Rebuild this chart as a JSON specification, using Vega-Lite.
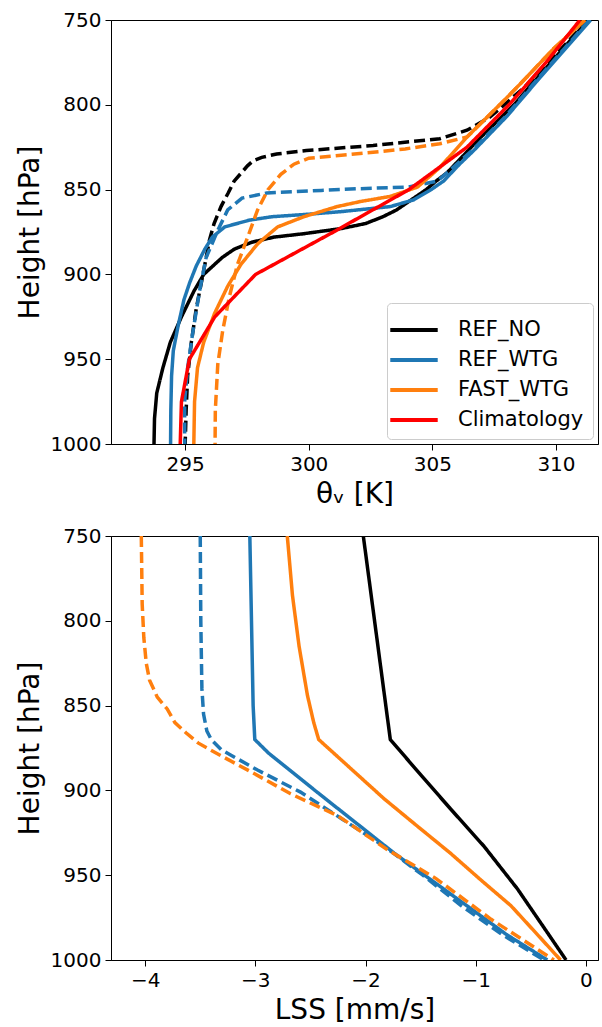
{
  "$schema": "https://vega.github.io/schema/vega-lite/v6.json",
  "padding": {"left": 15, "top": 9, "right": 0, "bottom": 0},
  "spacing": 16,
  "config": {
    "font": "DejaVu Sans",
    "view": {"stroke": "black", "strokeWidth": 1},
    "axis": {
      "grid": false,
      "labelFont": "DejaVu Sans",
      "titleFont": "DejaVu Sans",
      "labelFontSize": 20,
      "titleFontSize": 28,
      "titleFontWeight": "normal",
      "labelColor": "black",
      "titleColor": "black",
      "tickColor": "black",
      "domainColor": "black",
      "tickSize": 6,
      "labelPadding": 4,
      "titlePadding": 6
    }
  },
  "datasets": {
    "theta": [
      {"s": "REF_NO", "d": "solid", "p": 1000, "v": 293.74},
      {"s": "REF_NO", "d": "solid", "p": 985, "v": 293.76},
      {"s": "REF_NO", "d": "solid", "p": 970, "v": 293.85},
      {"s": "REF_NO", "d": "solid", "p": 955, "v": 294.1},
      {"s": "REF_NO", "d": "solid", "p": 940, "v": 294.4},
      {"s": "REF_NO", "d": "solid", "p": 925, "v": 294.85},
      {"s": "REF_NO", "d": "solid", "p": 910, "v": 295.35},
      {"s": "REF_NO", "d": "solid", "p": 900, "v": 295.75},
      {"s": "REF_NO", "d": "solid", "p": 890, "v": 296.5},
      {"s": "REF_NO", "d": "solid", "p": 885, "v": 297.0},
      {"s": "REF_NO", "d": "solid", "p": 881, "v": 297.7},
      {"s": "REF_NO", "d": "solid", "p": 878, "v": 298.6},
      {"s": "REF_NO", "d": "solid", "p": 876, "v": 299.8},
      {"s": "REF_NO", "d": "solid", "p": 873, "v": 301.3},
      {"s": "REF_NO", "d": "solid", "p": 870, "v": 302.3},
      {"s": "REF_NO", "d": "solid", "p": 866, "v": 303.0},
      {"s": "REF_NO", "d": "solid", "p": 862, "v": 303.55},
      {"s": "REF_NO", "d": "solid", "p": 858, "v": 303.95},
      {"s": "REF_NO", "d": "solid", "p": 855, "v": 304.25},
      {"s": "REF_NO", "d": "solid", "p": 850, "v": 304.75},
      {"s": "REF_NO", "d": "solid", "p": 845, "v": 305.15},
      {"s": "REF_NO", "d": "solid", "p": 840, "v": 305.6},
      {"s": "REF_NO", "d": "solid", "p": 830, "v": 306.25},
      {"s": "REF_NO", "d": "solid", "p": 820, "v": 306.9},
      {"s": "REF_NO", "d": "solid", "p": 810, "v": 307.6},
      {"s": "REF_NO", "d": "solid", "p": 800, "v": 308.3},
      {"s": "REF_NO", "d": "solid", "p": 775, "v": 309.8},
      {"s": "REF_NO", "d": "solid", "p": 750, "v": 311.3},

      {"s": "REF_NO", "d": "dashed", "p": 1000, "v": 295.0},
      {"s": "REF_NO", "d": "dashed", "p": 980, "v": 295.04},
      {"s": "REF_NO", "d": "dashed", "p": 960, "v": 295.1},
      {"s": "REF_NO", "d": "dashed", "p": 940, "v": 295.25},
      {"s": "REF_NO", "d": "dashed", "p": 920, "v": 295.45},
      {"s": "REF_NO", "d": "dashed", "p": 900, "v": 295.72},
      {"s": "REF_NO", "d": "dashed", "p": 880, "v": 295.98},
      {"s": "REF_NO", "d": "dashed", "p": 870, "v": 296.17},
      {"s": "REF_NO", "d": "dashed", "p": 860, "v": 296.45},
      {"s": "REF_NO", "d": "dashed", "p": 852, "v": 296.74},
      {"s": "REF_NO", "d": "dashed", "p": 845, "v": 296.98},
      {"s": "REF_NO", "d": "dashed", "p": 840, "v": 297.28},
      {"s": "REF_NO", "d": "dashed", "p": 836, "v": 297.52},
      {"s": "REF_NO", "d": "dashed", "p": 833, "v": 297.75},
      {"s": "REF_NO", "d": "dashed", "p": 831, "v": 298.1},
      {"s": "REF_NO", "d": "dashed", "p": 829, "v": 298.7},
      {"s": "REF_NO", "d": "dashed", "p": 827, "v": 299.9},
      {"s": "REF_NO", "d": "dashed", "p": 824, "v": 302.6},
      {"s": "REF_NO", "d": "dashed", "p": 820, "v": 305.3},
      {"s": "REF_NO", "d": "dashed", "p": 815, "v": 306.4},
      {"s": "REF_NO", "d": "dashed", "p": 807, "v": 307.35},
      {"s": "REF_NO", "d": "dashed", "p": 790, "v": 308.7},
      {"s": "REF_NO", "d": "dashed", "p": 775, "v": 309.7},
      {"s": "REF_NO", "d": "dashed", "p": 750, "v": 311.3},

      {"s": "REF_WTG", "d": "solid", "p": 1000, "v": 294.41},
      {"s": "REF_WTG", "d": "solid", "p": 980, "v": 294.42},
      {"s": "REF_WTG", "d": "solid", "p": 960, "v": 294.45},
      {"s": "REF_WTG", "d": "solid", "p": 945, "v": 294.52},
      {"s": "REF_WTG", "d": "solid", "p": 930, "v": 294.72},
      {"s": "REF_WTG", "d": "solid", "p": 915, "v": 294.95},
      {"s": "REF_WTG", "d": "solid", "p": 905, "v": 295.18},
      {"s": "REF_WTG", "d": "solid", "p": 895, "v": 295.45},
      {"s": "REF_WTG", "d": "solid", "p": 885, "v": 295.8},
      {"s": "REF_WTG", "d": "solid", "p": 878, "v": 296.1},
      {"s": "REF_WTG", "d": "solid", "p": 872, "v": 296.6},
      {"s": "REF_WTG", "d": "solid", "p": 868, "v": 297.6},
      {"s": "REF_WTG", "d": "solid", "p": 866, "v": 298.5},
      {"s": "REF_WTG", "d": "solid", "p": 864.5, "v": 300.0},
      {"s": "REF_WTG", "d": "solid", "p": 863, "v": 301.3},
      {"s": "REF_WTG", "d": "solid", "p": 860, "v": 303.3},
      {"s": "REF_WTG", "d": "solid", "p": 856, "v": 304.25},
      {"s": "REF_WTG", "d": "solid", "p": 850, "v": 304.95},
      {"s": "REF_WTG", "d": "solid", "p": 845, "v": 305.45},
      {"s": "REF_WTG", "d": "solid", "p": 835, "v": 306.1},
      {"s": "REF_WTG", "d": "solid", "p": 827, "v": 306.67},
      {"s": "REF_WTG", "d": "solid", "p": 807, "v": 308.0},
      {"s": "REF_WTG", "d": "solid", "p": 784, "v": 309.35},
      {"s": "REF_WTG", "d": "solid", "p": 750, "v": 311.4},

      {"s": "REF_WTG", "d": "dashed", "p": 1000, "v": 294.98},
      {"s": "REF_WTG", "d": "dashed", "p": 975, "v": 294.98},
      {"s": "REF_WTG", "d": "dashed", "p": 955, "v": 295.1},
      {"s": "REF_WTG", "d": "dashed", "p": 935, "v": 295.3},
      {"s": "REF_WTG", "d": "dashed", "p": 910, "v": 295.58},
      {"s": "REF_WTG", "d": "dashed", "p": 890, "v": 295.85},
      {"s": "REF_WTG", "d": "dashed", "p": 874, "v": 296.32},
      {"s": "REF_WTG", "d": "dashed", "p": 862, "v": 296.72},
      {"s": "REF_WTG", "d": "dashed", "p": 855, "v": 297.3},
      {"s": "REF_WTG", "d": "dashed", "p": 852, "v": 298.3},
      {"s": "REF_WTG", "d": "dashed", "p": 850.5, "v": 300.5},
      {"s": "REF_WTG", "d": "dashed", "p": 849.5, "v": 302.0},
      {"s": "REF_WTG", "d": "dashed", "p": 848.5, "v": 304.0},
      {"s": "REF_WTG", "d": "dashed", "p": 845, "v": 305.2},
      {"s": "REF_WTG", "d": "dashed", "p": 840, "v": 305.6},
      {"s": "REF_WTG", "d": "dashed", "p": 827, "v": 306.6},
      {"s": "REF_WTG", "d": "dashed", "p": 807, "v": 307.95},
      {"s": "REF_WTG", "d": "dashed", "p": 784, "v": 309.3},
      {"s": "REF_WTG", "d": "dashed", "p": 750, "v": 311.35},

      {"s": "FAST_WTG", "d": "solid", "p": 1000, "v": 295.35},
      {"s": "FAST_WTG", "d": "solid", "p": 975, "v": 295.38},
      {"s": "FAST_WTG", "d": "solid", "p": 955, "v": 295.5},
      {"s": "FAST_WTG", "d": "solid", "p": 940, "v": 295.75},
      {"s": "FAST_WTG", "d": "solid", "p": 923, "v": 296.19},
      {"s": "FAST_WTG", "d": "solid", "p": 907, "v": 296.72},
      {"s": "FAST_WTG", "d": "solid", "p": 894, "v": 297.26},
      {"s": "FAST_WTG", "d": "solid", "p": 882, "v": 297.93},
      {"s": "FAST_WTG", "d": "solid", "p": 872, "v": 298.74},
      {"s": "FAST_WTG", "d": "solid", "p": 866, "v": 299.8},
      {"s": "FAST_WTG", "d": "solid", "p": 860, "v": 301.15},
      {"s": "FAST_WTG", "d": "solid", "p": 857, "v": 302.1},
      {"s": "FAST_WTG", "d": "solid", "p": 854, "v": 303.3},
      {"s": "FAST_WTG", "d": "solid", "p": 848.5, "v": 304.4},
      {"s": "FAST_WTG", "d": "solid", "p": 837, "v": 305.3},
      {"s": "FAST_WTG", "d": "solid", "p": 819, "v": 306.4},
      {"s": "FAST_WTG", "d": "solid", "p": 796, "v": 308.0},
      {"s": "FAST_WTG", "d": "solid", "p": 787, "v": 308.6},
      {"s": "FAST_WTG", "d": "solid", "p": 767, "v": 309.9},
      {"s": "FAST_WTG", "d": "solid", "p": 750, "v": 311.17},

      {"s": "FAST_WTG", "d": "dashed", "p": 1000, "v": 296.21},
      {"s": "FAST_WTG", "d": "dashed", "p": 980, "v": 296.22},
      {"s": "FAST_WTG", "d": "dashed", "p": 953, "v": 296.32},
      {"s": "FAST_WTG", "d": "dashed", "p": 933, "v": 296.52},
      {"s": "FAST_WTG", "d": "dashed", "p": 913, "v": 296.79},
      {"s": "FAST_WTG", "d": "dashed", "p": 894, "v": 297.12},
      {"s": "FAST_WTG", "d": "dashed", "p": 878, "v": 297.53},
      {"s": "FAST_WTG", "d": "dashed", "p": 862, "v": 297.93},
      {"s": "FAST_WTG", "d": "dashed", "p": 850, "v": 298.35},
      {"s": "FAST_WTG", "d": "dashed", "p": 841, "v": 298.87},
      {"s": "FAST_WTG", "d": "dashed", "p": 835, "v": 299.4},
      {"s": "FAST_WTG", "d": "dashed", "p": 831.5, "v": 300.0},
      {"s": "FAST_WTG", "d": "dashed", "p": 828, "v": 302.6},
      {"s": "FAST_WTG", "d": "dashed", "p": 826, "v": 303.9},
      {"s": "FAST_WTG", "d": "dashed", "p": 823, "v": 305.3},
      {"s": "FAST_WTG", "d": "dashed", "p": 819, "v": 306.4},
      {"s": "FAST_WTG", "d": "dashed", "p": 796, "v": 308.0},
      {"s": "FAST_WTG", "d": "dashed", "p": 787, "v": 308.6},
      {"s": "FAST_WTG", "d": "dashed", "p": 767, "v": 309.9},
      {"s": "FAST_WTG", "d": "dashed", "p": 750, "v": 311.17},

      {"s": "Climatology", "d": "solid", "p": 1000, "v": 294.8},
      {"s": "Climatology", "d": "solid", "p": 975, "v": 294.85},
      {"s": "Climatology", "d": "solid", "p": 950, "v": 295.17},
      {"s": "Climatology", "d": "solid", "p": 925, "v": 296.2},
      {"s": "Climatology", "d": "solid", "p": 900, "v": 297.85},
      {"s": "Climatology", "d": "solid", "p": 875, "v": 301.0},
      {"s": "Climatology", "d": "solid", "p": 850, "v": 304.05},
      {"s": "Climatology", "d": "solid", "p": 825, "v": 306.4},
      {"s": "Climatology", "d": "solid", "p": 800, "v": 308.1},
      {"s": "Climatology", "d": "solid", "p": 775, "v": 309.6},
      {"s": "Climatology", "d": "solid", "p": 750, "v": 310.97}
    ],
    "lss": [
      {"s": "REF_NO", "d": "solid", "p": 750, "v": -2.02},
      {"s": "REF_NO", "d": "solid", "p": 870, "v": -1.775},
      {"s": "REF_NO", "d": "solid", "p": 890, "v": -1.51},
      {"s": "REF_NO", "d": "solid", "p": 911, "v": -1.227},
      {"s": "REF_NO", "d": "solid", "p": 933, "v": -0.924},
      {"s": "REF_NO", "d": "solid", "p": 958, "v": -0.622},
      {"s": "REF_NO", "d": "solid", "p": 980, "v": -0.39},
      {"s": "REF_NO", "d": "solid", "p": 1000, "v": -0.18},

      {"s": "FAST_WTG", "d": "solid", "p": 750, "v": -2.71},
      {"s": "FAST_WTG", "d": "solid", "p": 785, "v": -2.663},
      {"s": "FAST_WTG", "d": "solid", "p": 815, "v": -2.603},
      {"s": "FAST_WTG", "d": "solid", "p": 844, "v": -2.527},
      {"s": "FAST_WTG", "d": "solid", "p": 860, "v": -2.47},
      {"s": "FAST_WTG", "d": "solid", "p": 870, "v": -2.425},
      {"s": "FAST_WTG", "d": "solid", "p": 885, "v": -2.17},
      {"s": "FAST_WTG", "d": "solid", "p": 905, "v": -1.83},
      {"s": "FAST_WTG", "d": "solid", "p": 920, "v": -1.55},
      {"s": "FAST_WTG", "d": "solid", "p": 937, "v": -1.23},
      {"s": "FAST_WTG", "d": "solid", "p": 953, "v": -0.95},
      {"s": "FAST_WTG", "d": "solid", "p": 968, "v": -0.68},
      {"s": "FAST_WTG", "d": "solid", "p": 985, "v": -0.44},
      {"s": "FAST_WTG", "d": "solid", "p": 1000, "v": -0.23},

      {"s": "REF_WTG", "d": "solid", "p": 750, "v": -3.05},
      {"s": "REF_WTG", "d": "solid", "p": 800, "v": -3.035},
      {"s": "REF_WTG", "d": "solid", "p": 850, "v": -3.02},
      {"s": "REF_WTG", "d": "solid", "p": 870, "v": -3.005},
      {"s": "REF_WTG", "d": "solid", "p": 878, "v": -2.88},
      {"s": "REF_WTG", "d": "solid", "p": 890, "v": -2.65},
      {"s": "REF_WTG", "d": "solid", "p": 901, "v": -2.44},
      {"s": "REF_WTG", "d": "solid", "p": 920, "v": -2.07},
      {"s": "REF_WTG", "d": "solid", "p": 937, "v": -1.74},
      {"s": "REF_WTG", "d": "solid", "p": 953, "v": -1.4},
      {"s": "REF_WTG", "d": "solid", "p": 968, "v": -1.08},
      {"s": "REF_WTG", "d": "solid", "p": 985, "v": -0.72},
      {"s": "REF_WTG", "d": "solid", "p": 1000, "v": -0.35},

      {"s": "REF_WTG", "d": "dashed", "p": 750, "v": -3.5},
      {"s": "REF_WTG", "d": "dashed", "p": 800, "v": -3.495},
      {"s": "REF_WTG", "d": "dashed", "p": 840, "v": -3.485},
      {"s": "REF_WTG", "d": "dashed", "p": 855, "v": -3.47},
      {"s": "REF_WTG", "d": "dashed", "p": 865, "v": -3.44},
      {"s": "REF_WTG", "d": "dashed", "p": 870, "v": -3.4},
      {"s": "REF_WTG", "d": "dashed", "p": 876, "v": -3.31},
      {"s": "REF_WTG", "d": "dashed", "p": 888, "v": -2.98},
      {"s": "REF_WTG", "d": "dashed", "p": 901, "v": -2.59},
      {"s": "REF_WTG", "d": "dashed", "p": 917, "v": -2.21},
      {"s": "REF_WTG", "d": "dashed", "p": 933, "v": -1.83},
      {"s": "REF_WTG", "d": "dashed", "p": 950, "v": -1.48},
      {"s": "REF_WTG", "d": "dashed", "p": 968, "v": -1.13},
      {"s": "REF_WTG", "d": "dashed", "p": 985, "v": -0.76},
      {"s": "REF_WTG", "d": "dashed", "p": 1000, "v": -0.38},

      {"s": "FAST_WTG", "d": "dashed", "p": 750, "v": -4.035},
      {"s": "FAST_WTG", "d": "dashed", "p": 790, "v": -4.027},
      {"s": "FAST_WTG", "d": "dashed", "p": 810, "v": -4.012},
      {"s": "FAST_WTG", "d": "dashed", "p": 825, "v": -3.99},
      {"s": "FAST_WTG", "d": "dashed", "p": 835, "v": -3.96},
      {"s": "FAST_WTG", "d": "dashed", "p": 845, "v": -3.89},
      {"s": "FAST_WTG", "d": "dashed", "p": 852, "v": -3.8},
      {"s": "FAST_WTG", "d": "dashed", "p": 860, "v": -3.73},
      {"s": "FAST_WTG", "d": "dashed", "p": 866, "v": -3.63},
      {"s": "FAST_WTG", "d": "dashed", "p": 872, "v": -3.52},
      {"s": "FAST_WTG", "d": "dashed", "p": 880, "v": -3.3},
      {"s": "FAST_WTG", "d": "dashed", "p": 889, "v": -3.04},
      {"s": "FAST_WTG", "d": "dashed", "p": 902, "v": -2.68},
      {"s": "FAST_WTG", "d": "dashed", "p": 915, "v": -2.25},
      {"s": "FAST_WTG", "d": "dashed", "p": 935, "v": -1.8},
      {"s": "FAST_WTG", "d": "dashed", "p": 952, "v": -1.36},
      {"s": "FAST_WTG", "d": "dashed", "p": 976, "v": -0.86},
      {"s": "FAST_WTG", "d": "dashed", "p": 1000, "v": -0.29}
    ]
  },
  "resolve": {"legend": {"color": "independent", "strokeDash": "independent"}},
  "vconcat": [
    {
      "width": 487,
      "height": 424,
      "data": {"name": "theta"},
      "mark": {"type": "line", "strokeWidth": 3.5, "clip": true},
      "encoding": {
        "x": {
          "field": "v", "type": "quantitative",
          "scale": {"domain": [292.0, 311.7], "nice": false, "zero": false},
          "axis": {"values": [295, 300, 305, 310], "title": "θᵥ [K]"}
        },
        "y": {
          "field": "p", "type": "quantitative",
          "scale": {"domain": [750, 1000], "reverse": true, "nice": false, "zero": false},
          "axis": {"values": [750, 800, 850, 900, 950, 1000], "format": "d", "title": "Height [hPa]"}
        },
        "color": {
          "field": "s", "type": "nominal",
          "scale": {"domain": ["REF_NO", "REF_WTG", "FAST_WTG", "Climatology"], "range": ["#000000", "#1f77b4", "#ff7f0e", "#ff0000"]},
          "legend": {
            "orient": "bottom-right",
            "title": null,
            "offset": 5,
            "symbolType": "M-1.5,0H1.5",
            "symbolStrokeWidth": 4,
            "symbolSize": 1000,
            "symbolFillColor": "transparent",
            "labelFontSize": 21,
            "labelFont": "DejaVu Sans",
            "labelColor": "black",
            "labelOffset": 26,
            "rowPadding": 2,
            "padding": 9,
            "strokeColor": "#cccccc",
            "fillColor": "rgba(255,255,255,0.8)",
            "cornerRadius": 4
          }
        },
        "strokeDash": {
          "field": "d", "type": "nominal",
          "scale": {"domain": ["solid", "dashed"], "range": [[1, 0], [11, 5]]},
          "legend": null
        },
        "order": {"field": "p", "type": "quantitative"}
      }
    },
    {
      "width": 487,
      "height": 424,
      "data": {"name": "lss"},
      "mark": {"type": "line", "strokeWidth": 3.5, "clip": true},
      "encoding": {
        "x": {
          "field": "v", "type": "quantitative",
          "scale": {"domain": [-4.31, 0.11], "nice": false, "zero": false},
          "axis": {"values": [-4, -3, -2, -1, 0], "title": "LSS [mm/s]"}
        },
        "y": {
          "field": "p", "type": "quantitative",
          "scale": {"domain": [750, 1000], "reverse": true, "nice": false, "zero": false},
          "axis": {"values": [750, 800, 850, 900, 950, 1000], "format": "d", "title": "Height [hPa]"}
        },
        "color": {
          "field": "s", "type": "nominal",
          "scale": {"domain": ["REF_NO", "REF_WTG", "FAST_WTG", "Climatology"], "range": ["#000000", "#1f77b4", "#ff7f0e", "#ff0000"]},
          "legend": null
        },
        "strokeDash": {
          "field": "d", "type": "nominal",
          "scale": {"domain": ["solid", "dashed"], "range": [[1, 0], [11, 5]]},
          "legend": null
        },
        "order": {"field": "p", "type": "quantitative"}
      }
    }
  ]
}
